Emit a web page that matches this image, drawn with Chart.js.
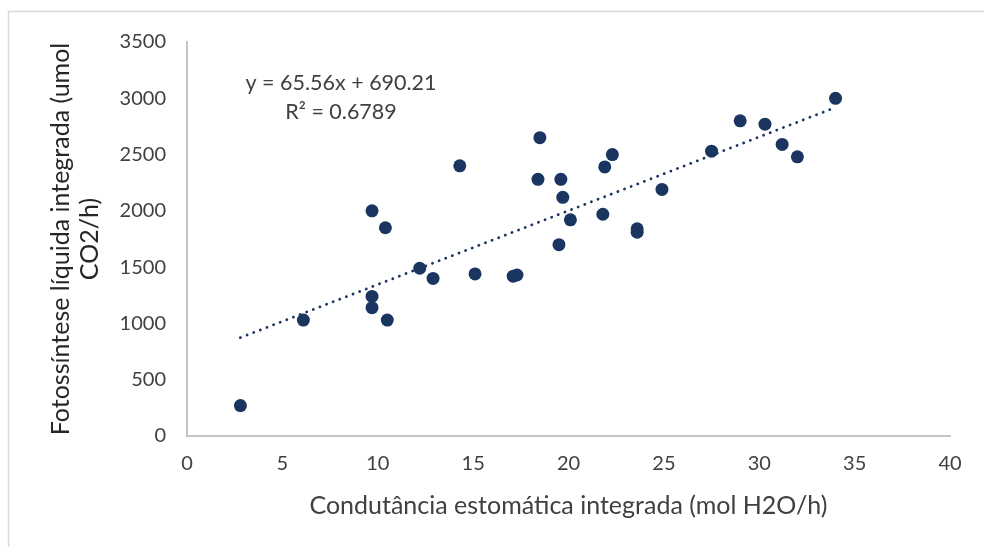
<!DOCTYPE html>
<html>
<head>
<meta charset="utf-8">
<script src="https://cdn.jsdelivr.net/npm/chart.js@4/dist/chart.umd.min.js"></script>
<style>
  html, body { margin: 0; padding: 0; background: #ffffff; }
  #wrap { width: 984px; height: 547px; position: relative; }
</style>
</head>
<body>
<div id="wrap"><canvas id="chart" width="984" height="547"></canvas></div>
<script>
// Integrated stomatal conductance (mol H2O/h)
const conductance = [2.8, 6.1, 9.7, 10.4, 9.7, 9.7, 10.5, 12.2, 12.9, 14.3, 15.1, 17.1, 17.3,
  18.4, 18.5, 19.6, 19.7, 20.1, 19.5, 21.8, 21.9, 22.3, 23.6, 23.6, 24.9, 27.5, 29.0, 30.3,
  31.2, 32.0, 34.0];
// Integrated net photosynthesis (umol CO2/h)
const photosynthesis = [270, 1030, 2000, 1850, 1240, 1140, 1030, 1490, 1400, 2400, 1440, 1420, 1430,
  2280, 2650, 2280, 2120, 1920, 1700, 1970, 2390, 2500, 1840, 1810, 2190, 2530, 2800, 2770,
  2590, 2480, 3000];

// Linear fit reported on the chart
const slope = 65.56;
const intercept = 690.21;
const rSquared = 0.6789;

const xTicks = [0, 5, 10, 15, 20, 25, 30, 35, 40];
const yTicks = [0, 500, 1000, 1500, 2000, 2500, 3000, 3500];

const xTitle = 'Condutância estomática integrada (mol H2O/h)';
const yTitle = ['Fotossíntese líquida integrada (umol', 'CO2/h)'];

const points = conductance.map((x, i) => ({ x: x, y: photosynthesis[i] }));
const xMin = Math.min(...conductance);
const xMax = Math.max(...conductance);
const trend = [xMin, xMax].map(x => ({ x: x, y: slope * x + intercept }));

const FONT = 'Lato, "Open Sans", sans-serif';
const DARK = '#1a3660';
const TEXT = '#404040';
const AXIS = '#c6c6c6';

// Outer frame of the chart area
const framePlugin = {
  id: 'frame',
  beforeDraw(chart) {
    const ctx = chart.ctx;
    ctx.save();
    ctx.strokeStyle = '#d9d9d9';
    ctx.lineWidth = 1.5;
    ctx.beginPath();
    ctx.moveTo(8.5, chart.height + 2);
    ctx.lineTo(8.5, 11.5);
    ctx.lineTo(chart.width + 2, 11.5);
    ctx.stroke();
    ctx.restore();
  }
};

// Trendline equation and R²
const equationPlugin = {
  id: 'equation',
  afterDatasetsDraw(chart) {
    const ctx = chart.ctx;
    const area = chart.chartArea;
    const cx = area.left + 154;
    ctx.save();
    ctx.fillStyle = TEXT;
    ctx.font = '21.5px ' + FONT;
    ctx.textAlign = 'center';
    ctx.textBaseline = 'middle';
    ctx.fillText('y = ' + slope.toFixed(2) + 'x + ' + intercept.toFixed(2), cx, area.top + 41);
    ctx.fillText('R² = ' + rSquared.toFixed(4), cx, area.top + 70);
    ctx.restore();
  }
};

new Chart(document.getElementById('chart'), {
  type: 'scatter',
  data: {
    datasets: [
      {
        label: 'Dados',
        data: points,
        backgroundColor: DARK,
        borderColor: DARK,
        pointRadius: 6.5,
        pointHoverRadius: 6.5,
        borderWidth: 0
      },
      {
        label: 'Linear',
        type: 'line',
        data: trend,
        showLine: true,
        pointRadius: 0,
        borderColor: DARK,
        borderWidth: 2.8,
        borderDash: [0.1, 7],
        borderCapStyle: 'round',
        fill: false,
        tension: 0
      }
    ]
  },
  options: {
    responsive: false,
    animation: false,
    events: [],
    layout: { padding: { top: 42, right: 34, left: 0, bottom: 0 } },
    plugins: {
      legend: { display: false },
      tooltip: { enabled: false }
    },
    scales: {
      x: {
        type: 'linear',
        min: 0,
        max: 40,
        afterBuildTicks(scale) { scale.ticks = xTicks.map(v => ({ value: v })); },
        afterFit(scale) { scale.height = 111; },
        grid: { display: false, drawTicks: false },
        border: { display: true, color: AXIS, width: 2 },
        ticks: {
          color: TEXT, font: { family: FONT, size: 20 }, padding: 16, maxRotation: 0,
          callback: v => String(v)
        },
        title: {
          display: true,
          text: xTitle,
          color: TEXT,
          font: { family: FONT, size: 25, lineHeight: 1.2 },
          padding: { top: 0, bottom: 26 }
        }
      },
      y: {
        type: 'linear',
        min: 0,
        max: 3500,
        afterBuildTicks(scale) { scale.ticks = yTicks.map(v => ({ value: v })); },
        afterFit(scale) { scale.width = 187; },
        grid: { display: false, drawTicks: false },
        border: { display: true, color: AXIS, width: 2 },
        ticks: {
          color: TEXT, font: { family: FONT, size: 20 }, padding: 21,
          callback: v => String(v)
        },
        title: {
          display: true,
          text: yTitle,
          color: '#262626',
          font: { family: FONT, size: 25, lineHeight: 1.15 },
          padding: { top: 47, bottom: 0 }
        }
      }
    }
  },
  plugins: [framePlugin, equationPlugin]
});
</script>
</body>
</html>
